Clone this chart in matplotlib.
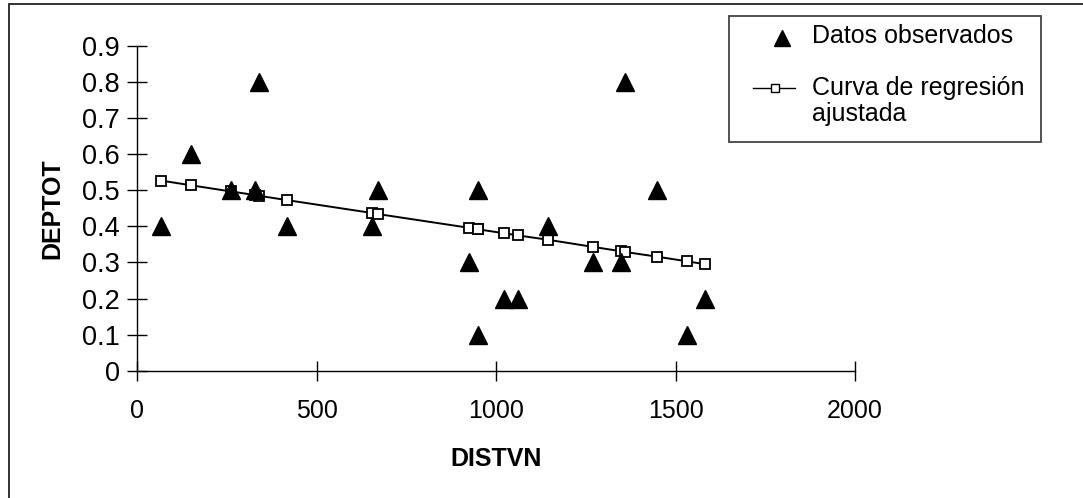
import matplotlib
matplotlib.use("Agg")
import matplotlib.pyplot as plt
from matplotlib.patches import Rectangle
from matplotlib.lines import Line2D

plt.rcParams['font.family'] = ['Liberation Sans', 'DejaVu Sans']

# Data
distvn = [66, 149, 260, 327, 338, 416, 655, 672, 925, 949, 949, 1022, 1061,
          1144, 1271, 1349, 1360, 1449, 1533, 1583]
deptot_obs = [0.4, 0.6, 0.5, 0.5, 0.8, 0.4, 0.4, 0.5, 0.3, 0.5, 0.1, 0.2, 0.2,
              0.4, 0.3, 0.3, 0.8, 0.5, 0.1, 0.2]
deptot_fit = [0.527, 0.514, 0.497, 0.487, 0.485, 0.473, 0.437, 0.434, 0.396,
              0.392, 0.392, 0.381, 0.375, 0.363, 0.343, 0.331, 0.329, 0.316,
              0.303, 0.295]
xticks = [0, 500, 1000, 1500, 2000]
yticks = [0, 0.1, 0.2, 0.3, 0.4, 0.5, 0.6, 0.7, 0.8, 0.9]
ytick_labels = ['0', '0.1', '0.2', '0.3', '0.4', '0.5', '0.6', '0.7', '0.8', '0.9']
label_obs = 'Datos observados'
label_fit_1 = 'Curva de regresión'
label_fit_2 = 'ajustada'

W, H = 1083, 498
fig = plt.figure(figsize=(W / 100, H / 100), dpi=100)

def fx(px):
    return px / W

def fy(py):
    return 1 - py / H

ax = fig.add_axes([fx(137.3), fy(370.7), fx(855) - fx(137.3), fy(46) - fy(370.7)])
ax.set_xlim(0, 2000)
ax.set_ylim(0, 0.9)

ax.plot(distvn, deptot_fit, color='black', lw=1.4, marker='s', ms=7.8,
        mfc='white', mec='black', mew=1.3, clip_on=False, zorder=3)
ax.plot(distvn, deptot_obs, ls='none', marker='^', ms=12.5, color='black',
        clip_on=False, zorder=4)

for s in ['top', 'right']:
    ax.spines[s].set_visible(False)
for s in ['left', 'bottom']:
    ax.spines[s].set_linewidth(1.0)
    ax.spines[s].set_color('black')

ax.set_xticks(xticks)
ax.set_xticklabels([str(t) for t in xticks])
ax.set_yticks(yticks)
ax.set_yticklabels(ytick_labels)
ax.tick_params(direction='inout', length=15, width=1.0, colors='black')
ax.tick_params(axis='x', pad=13, labelsize=18)
ax.tick_params(axis='y', pad=5, labelsize=19.5)

ax.set_xlabel('DISTVN', fontsize=18, fontweight='bold', labelpad=17)
ax.set_ylabel('DEPTOT', fontsize=18, fontweight='bold', labelpad=13)

# figure border (left and top visible)
fig.add_artist(Rectangle((fx(8.5), fy(510)), 1.2, fy(4) - fy(510),
                         transform=fig.transFigure, fill=False,
                         edgecolor='#222222', lw=1.3))

# legend box
fig.add_artist(Rectangle((fx(729), fy(142)), fx(1041) - fx(729), fy(16) - fy(142),
                         transform=fig.transFigure, fill=True, facecolor='white',
                         edgecolor='#444444', lw=1.3))
fig.add_artist(Line2D([fx(782)], [fy(38)], marker='^', ms=11, color='black',
                      transform=fig.transFigure))
fig.text(fx(812), fy(36), label_obs, fontsize=18, va='center', ha='left')
fig.add_artist(Line2D([fx(753), fx(795)], [fy(88), fy(88)], color='black', lw=1.0,
                      transform=fig.transFigure))
fig.add_artist(Line2D([fx(775)], [fy(88)], marker='s', ms=5.5, mfc='white',
                      mec='black', mew=1.0, transform=fig.transFigure))
fig.text(fx(812), fy(88), label_fit_1, fontsize=18, va='center', ha='left')
fig.text(fx(812), fy(114), label_fit_2, fontsize=18, va='center', ha='left')

fig.savefig('out.png', dpi=100)
